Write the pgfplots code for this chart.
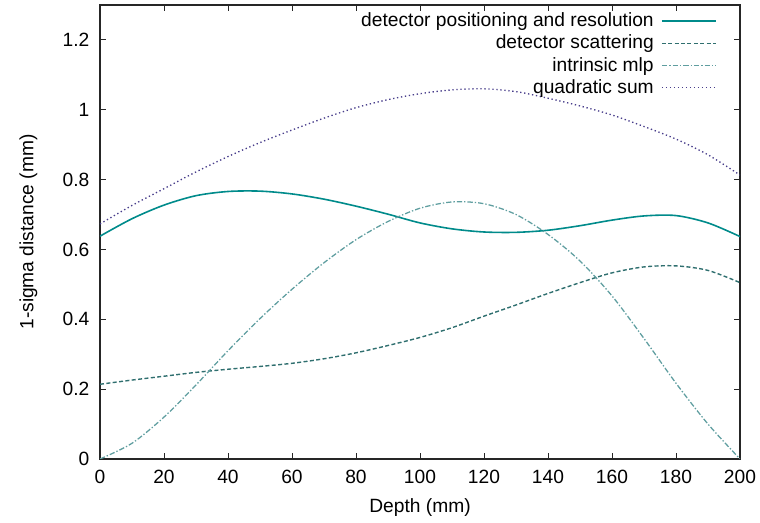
\documentclass[border=0pt]{standalone}
\usepackage{fontspec}
\setmainfont{Liberation Sans}
\usepackage{pgfplots}
\pgfplotsset{compat=1.18}
\usepackage{pgfplotstable}
\definecolor{cA}{HTML}{008B8B}
\definecolor{cB}{HTML}{2F6F6F}
\definecolor{cC}{HTML}{5F9EA0}
\definecolor{cD}{HTML}{483D8B}
\pgfplotstableread{
x A B C D
0 0.638 0.214 0.000 0.673
10 0.688 0.226 0.045 0.726
20 0.727 0.237 0.120 0.774
30 0.754 0.248 0.212 0.822
40 0.766 0.257 0.310 0.866
50 0.767 0.265 0.402 0.906
60 0.759 0.274 0.486 0.942
70 0.744 0.287 0.562 0.976
80 0.724 0.304 0.628 1.006
90 0.701 0.325 0.680 1.029
100 0.676 0.348 0.718 1.046
110 0.659 0.376 0.736 1.057
120 0.650 0.409 0.731 1.060
130 0.649 0.441 0.700 1.052
140 0.655 0.474 0.643 1.033
150 0.668 0.505 0.567 1.011
160 0.684 0.533 0.467 0.985
170 0.696 0.550 0.345 0.952
180 0.697 0.553 0.217 0.916
190 0.676 0.540 0.100 0.871
200 0.637 0.505 0.000 0.813
}\data
\begin{document}
\fontsize{14.4}{17.5}\selectfont
\begin{tikzpicture}
\begin{axis}[
  name=ax,
  scale only axis,
  width=480pt, height=340.5pt,
  xmin=0, xmax=200, ymin=0, ymax=1.3,
  xtick={0,20,...,200},
  ytick={0,0.2,0.4,0.6,0.8,1,1.2},
  yticklabels={0,0.2,0.4,0.6,0.8,1,1.2},
  /pgf/number format/assume math mode=true,
  tick align=inside,
  tick pos=both,
  major tick length=4.5pt,
  axis line style={line width=0.9pt, black!85},
  tick style={line width=0.7pt, black!85},
  ticklabel style={font=\fontsize{14.4}{17.5}\selectfont},
  xticklabel style={yshift=-3pt},
  yticklabel style={xshift=-3pt},
  xlabel={Depth (mm)},
  ylabel={1-sigma distance (mm)},
  xlabel style={at={(axis description cs:0.5,-0.107)}, anchor=center, font=\fontsize{14.4}{17.5}\selectfont},
  ylabel style={at={(axis description cs:-0.112,0.5)}, anchor=center, font=\fontsize{14.4}{17.5}\selectfont},
  legend style={draw=none, fill=none, at={(axis description cs:0.966,0.992)}, anchor=north east,
    font=\fontsize{14.4}{17.5}\selectfont, row sep=0pt, inner sep=1pt},
  legend cell align=right,
  legend plot pos=right,
  legend image code/.code={\path (0pt,0pt); \draw[#1] (3.5pt,0pt) -- (44pt,0pt);},
]
\addplot[cA, line width=1.2pt, smooth] table[x=x, y=A] {\data};
\addlegendentry{detector positioning and resolution}
\addplot[cB, line width=1.05pt, smooth, dash pattern=on 3pt off 1.8pt] table[x=x, y=B] {\data};
\addlegendentry{detector scattering}
\addplot[cC, line width=0.95pt, smooth, dash pattern=on 4pt off 1.5pt on 1pt off 1.5pt] table[x=x, y=C] {\data};
\addlegendentry{intrinsic mlp}
\addplot[cD, line width=1pt, smooth, dash pattern=on 1pt off 2pt] table[x=x, y=D] {\data};
\addlegendentry{quadratic sum}
\end{axis}
\pgfresetboundingbox
\path[use as bounding box] ([shift={(-75pt,-48pt)}]ax.south west) rectangle ([shift={(15pt,3.75pt)}]ax.north east);
\end{tikzpicture}
\end{document}
